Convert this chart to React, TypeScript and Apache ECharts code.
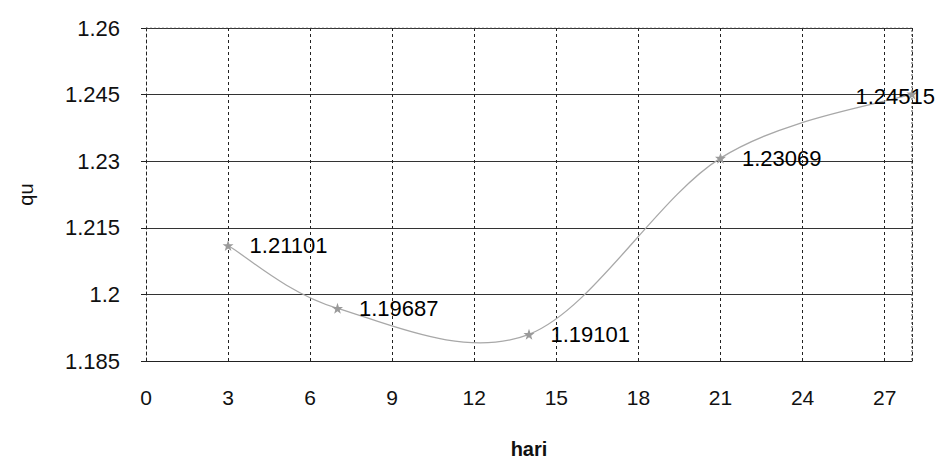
import React, { useEffect, useRef } from "react";
import * as echarts from "echarts";

const days = [3, 7, 14, 21, 28];
const quValues = [1.21101, 1.19687, 1.19101, 1.23069, 1.24515];
const valueLabels = ["1.21101", "1.19687", "1.19101", "1.23069", "1.24515"];
const yTicks = ["1.185", "1.2", "1.215", "1.23", "1.245", "1.26"];

const FONT = "Liberation Sans, Arial, sans-serif";

export default function App() {
  const ref = useRef<HTMLDivElement>(null);
  useEffect(() => {
    if (!ref.current) return;
    const chart = echarts.init(ref.current, undefined, { renderer: "svg" });
    const points = days.map((d, i) => [d, quValues[i]]);
    const scatterData = points.map((p, i) => {
      const item: any = { value: p };
      if (i === points.length - 1) {
        item.label = { offset: [-78, 3] };
      }
      return item;
    });
    const n = points.length;
    const renderSegment = (params: any, api: any) => {
      const i = params.dataIndex;
      if (i >= n - 1) return null;
      const P = (j: number) => api.coord(points[Math.max(0, Math.min(n - 1, j))]);
      const p0 = P(i - 1);
      const p1 = P(i);
      const p2 = P(i + 1);
      const p3 = P(i + 2);
      const k = 1 / 6;
      return {
        type: "bezierCurve",
        shape: {
          x1: p1[0],
          y1: p1[1],
          x2: p2[0],
          y2: p2[1],
          cpx1: p1[0] + (p2[0] - p0[0]) * k,
          cpy1: p1[1] + (p2[1] - p0[1]) * k,
          cpx2: p2[0] - (p3[0] - p1[0]) * k,
          cpy2: p2[1] - (p3[1] - p1[1]) * k,
        },
        style: { stroke: "#a8a8a8", fill: null, lineWidth: 1.3 },
        silent: true,
      };
    };
    chart.setOption({
      animation: false,
      backgroundColor: "#ffffff",
      grid: { left: 128, right: 29, top: 20, bottom: 91, containLabel: false },
      xAxis: {
        type: "value",
        min: 0,
        max: 28,
        interval: 3,
        name: "hari",
        nameLocation: "middle",
        nameGap: 78,
        nameTextStyle: { fontFamily: FONT, fontSize: 20, fontWeight: "bold", color: "#111" },
        axisLine: { show: true, lineStyle: { color: "#222", width: 1 } },
        axisTick: { show: false },
        axisLabel: {
          fontFamily: FONT,
          fontSize: 21,
          color: "#111",
          margin: 26,
          showMaxLabel: false,
          formatter: (v: number) => (v % 3 === 0 ? String(v) : ""),
        },
        splitLine: { show: true, lineStyle: { color: "#222", type: [3, 3], width: 1 } },
      },
      yAxis: {
        type: "value",
        min: 1.185,
        max: 1.26,
        interval: 0.015,
        name: "qu",
        nameLocation: "middle",
        nameGap: 110,
        nameTextStyle: { fontFamily: FONT, fontSize: 20, color: "#111" },
        axisLine: { show: true, lineStyle: { color: "#222", type: [3, 3], width: 1 } },
        axisTick: { show: true, length: 5, lineStyle: { color: "#222" } },
        axisLabel: {
          fontFamily: FONT,
          fontSize: 22,
          color: "#111",
          margin: 26,
          formatter: (v: number) => {
            const idx = Math.round((v - 1.185) / 0.015);
            return yTicks[idx] ?? "";
          },
        },
        splitLine: { show: true, lineStyle: { color: "#333", width: 1 } },
      },
      series: [
        {
          type: "custom",
          data: points,
          renderItem: renderSegment,
          clip: true,
          z: 4,
        },
        {
          type: "scatter",
          data: scatterData,
          symbol:
            "path://M0,-5L1.2,-1.6L4.8,-1.6L1.9,0.6L2.9,4L0,2L-2.9,4L-1.9,0.6L-4.8,-1.6L-1.2,-1.6Z",
          symbolSize: 11,
          itemStyle: { color: "#9a9a9a", opacity: 1 },
          label: {
            show: true,
            position: "right",
            distance: 16,
            fontFamily: FONT,
            fontSize: 22,
            color: "#000",
            opacity: 1,
            formatter: (p: any) => valueLabels[p.dataIndex],
          },
          z: 5,
        },
        {
          type: "line",
          data: [
            [0, 1.26],
            [28, 1.26],
            [28, 1.185],
          ],
          symbol: "none",
          silent: true,
          lineStyle: { color: "#444", width: 1, type: [2, 2] },
          z: 1,
        },
      ],
    });
    return () => chart.dispose();
  }, []);
  return <div ref={ref} style={{ width: 933, height: 456 }} />;
}
